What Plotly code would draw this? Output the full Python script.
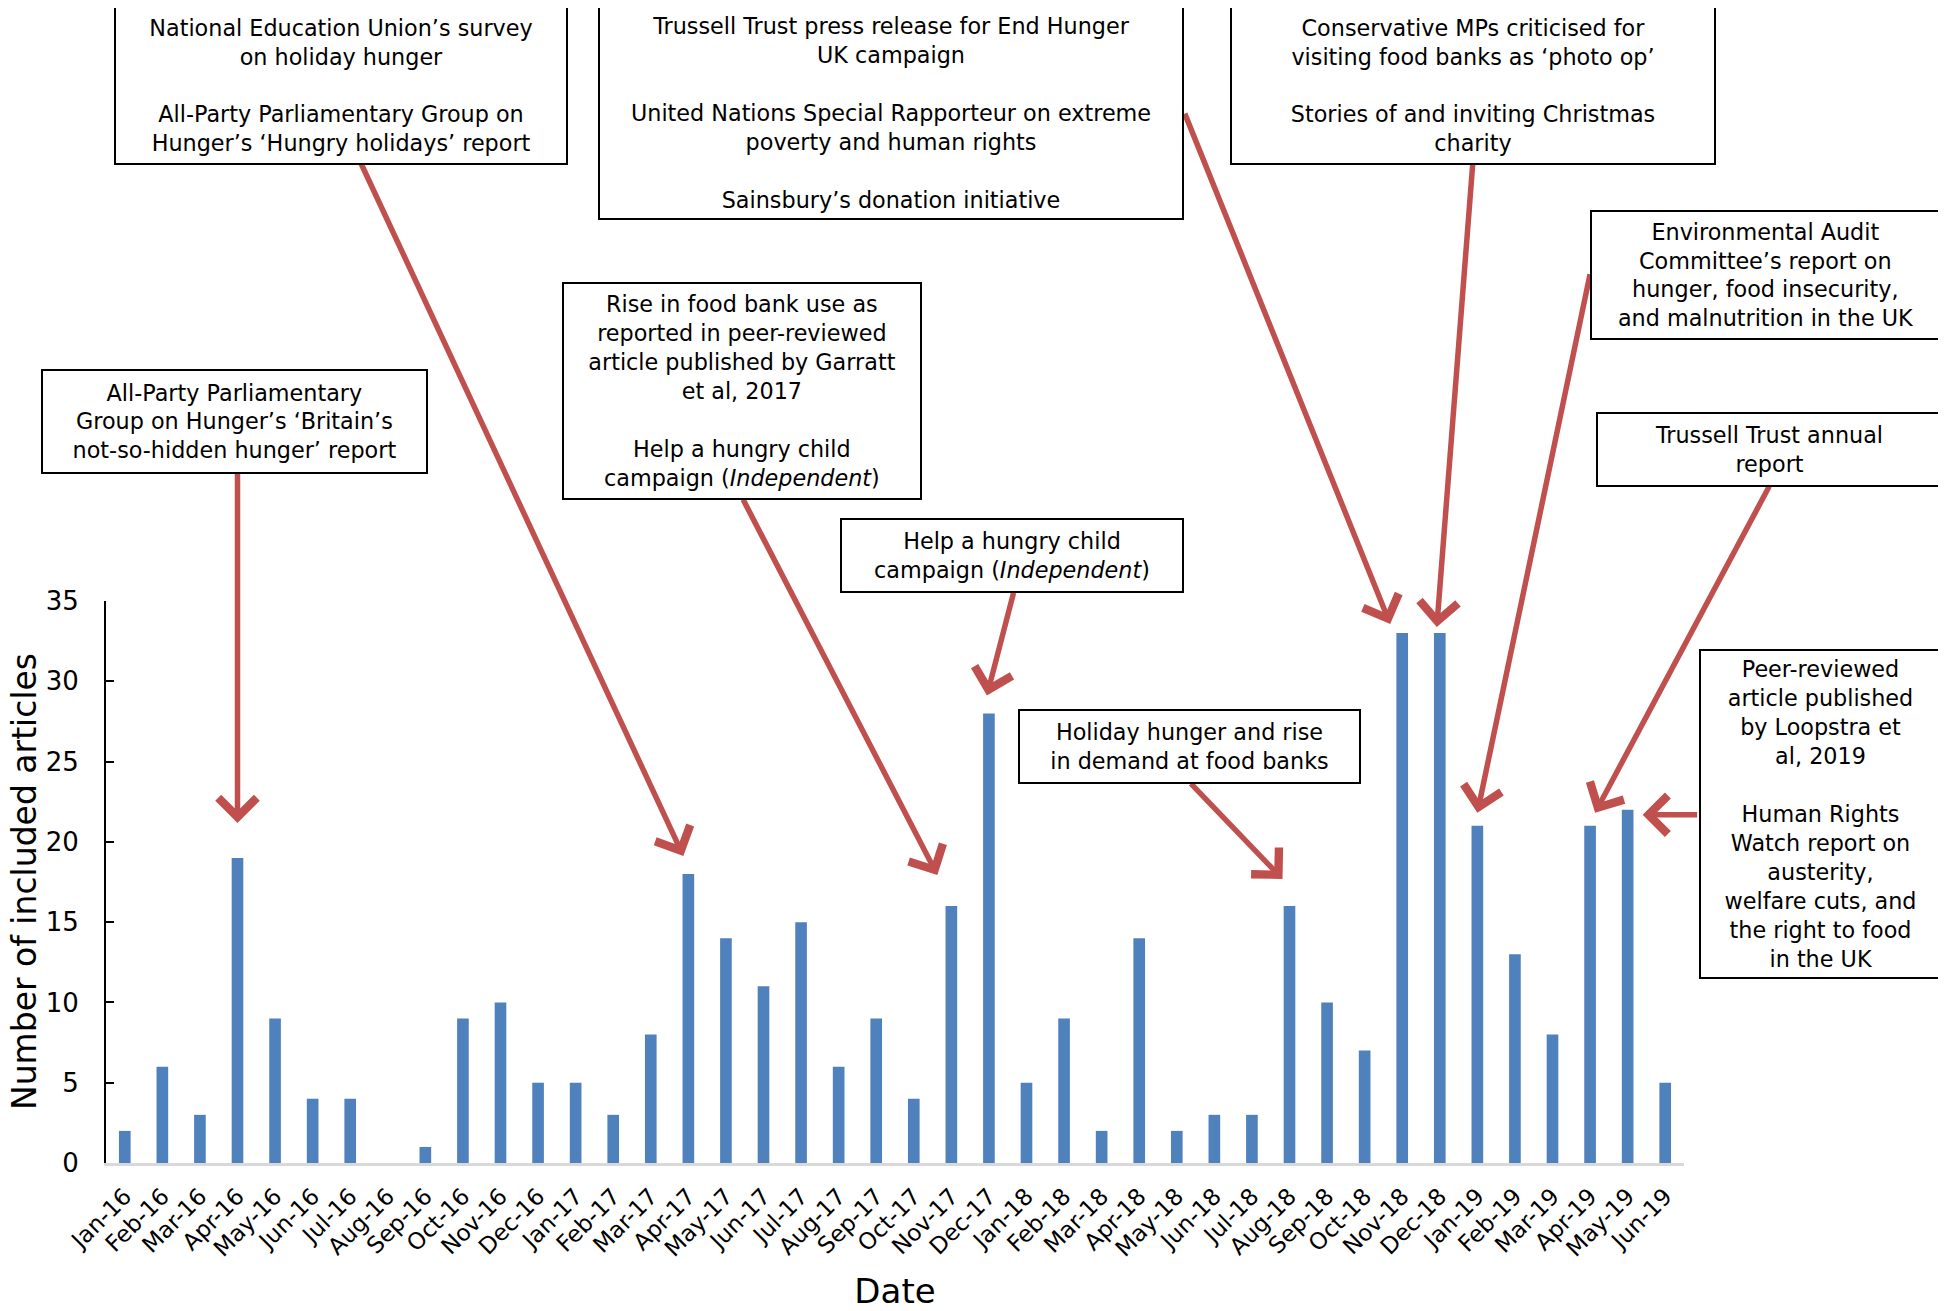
import plotly.graph_objects as go

months = ["Jan-16", "Feb-16", "Mar-16", "Apr-16", "May-16", "Jun-16", "Jul-16", "Aug-16",
          "Sep-16", "Oct-16", "Nov-16", "Dec-16", "Jan-17", "Feb-17", "Mar-17", "Apr-17",
          "May-17", "Jun-17", "Jul-17", "Aug-17", "Sep-17", "Oct-17", "Nov-17", "Dec-17",
          "Jan-18", "Feb-18", "Mar-18", "Apr-18", "May-18", "Jun-18", "Jul-18", "Aug-18",
          "Sep-18", "Oct-18", "Nov-18", "Dec-18", "Jan-19", "Feb-19", "Mar-19", "Apr-19",
          "May-19", "Jun-19"]
articles = [2, 6, 3, 19, 9, 4, 4, 0, 1, 9, 10, 5, 5, 3, 8, 18, 14, 11, 15, 6, 9, 4, 16, 28,
            5, 9, 2, 14, 2, 3, 3, 16, 10, 7, 33, 33, 21, 13, 8, 21, 22, 5]

y_ticks = [0, 5, 10, 15, 20, 25, 30, 35]
y_title = "Number of included articles"
x_title = "Date"

# month each arrow points to
arrow_months = ["Apr-16", "Apr-17", "Nov-17", "Dec-17", "Aug-18", "Nov-18", "Dec-18",
                "Jan-19", "Apr-19", "May-19"]

box_texts = [
    "National Education Union’s survey<br>on holiday hunger<br><br>All-Party Parliamentary Group on<br>Hunger’s ‘Hungry holidays’ report",
    "Trussell Trust press release for End Hunger<br>UK campaign<br><br>United Nations Special Rapporteur on extreme<br>poverty and human rights<br><br>Sainsbury’s donation initiative",
    "Conservative MPs criticised for<br>visiting food banks as ‘photo op’<br><br>Stories of and inviting Christmas<br>charity",
    "Environmental Audit<br>Committee’s report on<br>hunger, food insecurity,<br>and malnutrition in the UK",
    "Trussell Trust annual<br>report",
    "Peer-reviewed<br>article published<br>by Loopstra et<br>al, 2019<br><br>Human Rights<br>Watch report on<br>austerity,<br>welfare cuts, and<br>the right to food<br>in the UK",
    "All-Party Parliamentary<br>Group on Hunger’s ‘Britain’s<br>not-so-hidden hunger’ report",
    "Rise in food bank use as<br>reported in peer-reviewed<br>article published by Garratt<br>et al, 2017<br><br>Help a hungry child<br>campaign (<i>Independent</i>)",
    "Help a hungry child<br>campaign (<i>Independent</i>)",
    "Holiday hunger and rise<br>in demand at food banks",
]

O = 8  # page body margin
W, H = 1946 - O, 1311 - O
ML, MT = 106 - O, 601 - O
MR, MB = 262, 148
PW, PH = W - ML - MR, H - MT - MB

FONT = "DejaVu Sans"
BAR = "#4F81BD"
RED = "#C0504D"

fig = go.Figure()
fig.add_trace(go.Bar(x=months, y=articles, marker=dict(color=BAR, line=dict(width=0)),
                     hoverinfo="skip"))

annotations = []
# arrows: (xshift, yshift, ax, ay) in pixels
arrow_style = [
    (0, 35, 0, -351),
    (-5, 18, -323, -694),
    (-14, 31, -195, -377),
    (-2, 18, 27, -104),
    (-7, 27, -93, -97),
    (-12, 9, -206, -512),
    (-3, 6, 36, -464),
    (0, 13, 113, -540),
    (5, 13, 175, -328),
    (15, -5, 56, 0),
]
val = dict(zip(months, articles))
for m, (xs, ys, ax, ay) in zip(arrow_months, arrow_style):
    annotations.append(dict(
        x=m, y=val[m], xref="x", yref="y", text="", showarrow=True,
        xshift=xs, yshift=ys, ax=ax, ay=ay, axref="pixel", ayref="pixel",
        arrowhead=4, arrowsize=1.35, arrowwidth=5.5, arrowcolor=RED, standoff=0,
    ))

# boxes: (left, top, right, bottom) in pixels of the reference image
box_px = [
    (114, 4, 568, 163),
    (598, 4, 1184, 218),
    (1230, 4, 1716, 163),
    (1590, 208, 1942, 338),
    (1596, 410, 1942, 485),
    (1699, 647, 1942, 977),
    (41, 367, 428, 472),
    (562, 280, 922, 498),
    (840, 516, 1184, 591),
    (1018, 707, 1361, 782),
]
for txt, (l, t, r, b) in zip(box_texts, box_px):
    cx, cy = (l + r) / 2 - O, (t + b) / 2 - O + 2
    annotations.append(dict(
        x=(cx - ML) / PW, y=(H - MB - cy) / PH, xref="paper", yref="paper",
        xanchor="center", yanchor="middle", text=txt, showarrow=False,
        width=r - l - 4, height=b - t - 4, borderpad=0, borderwidth=2,
        bordercolor="black", bgcolor="white", align="center", valign="middle",
        font=dict(family=FONT, size=22.3, color="black"),
    ))

# y-axis title placed as rotated text
annotations.append(dict(
    x=(24 - O - ML) / PW, y=0.5, xref="paper", yref="paper",
    xanchor="center", yanchor="middle", text=y_title, textangle=-90,
    showarrow=False, font=dict(family=FONT, size=33, color="black"),
))

fig.update_layout(
    width=W, height=H,
    margin=dict(l=ML, r=MR, t=MT, b=MB, autoexpand=False),
    paper_bgcolor="white", plot_bgcolor="white",
    bargap=0.69, showlegend=False,
    font=dict(family=FONT, color="black"),
    annotations=annotations,
    xaxis=dict(
        type="category", categoryorder="array", categoryarray=months,
        range=[-0.5, len(months) - 0.5], autorange=False,
        showline=True, linecolor="#D9D9D9", linewidth=2.5, ticks="",
        showgrid=False, zeroline=False, tickangle=-45,
        tickfont=dict(family=FONT, size=23, color="black"),
        ticklabelstandoff=8,
        title=dict(text=x_title, font=dict(family=FONT, size=34, color="black"), standoff=22),
    ),
    yaxis=dict(
        range=[0, 35], autorange=False, tickvals=y_ticks, showline=True,
        linecolor="black", linewidth=2,
        ticks="inside", ticklen=8, tickwidth=2, tickcolor="black",
        showgrid=False, zeroline=False,
        tickfont=dict(family=FONT, size=26, color="black"),
        ticklabelstandoff=20,
    ),
)

fig.write_html("out.html")
